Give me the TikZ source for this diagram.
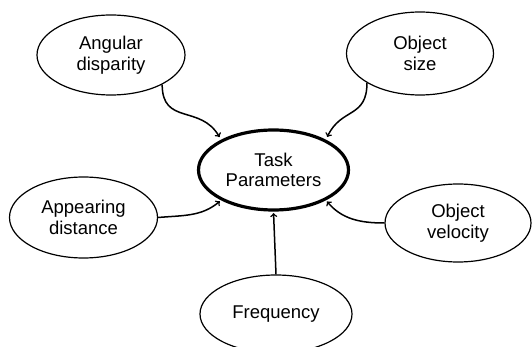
\documentclass[tikz,border=0pt]{standalone}
\usepackage{fontspec}
\setmainfont{Liberation Sans}
\usetikzlibrary{shapes.geometric}
\begin{document}
\begin{tikzpicture}[x=1pt, y=-1pt, line width=1.5pt, >=to,
    factor node/.style={ellipse, draw, line width=1.2pt, inner sep=0pt, align=center, font=\fontsize{18.5}{20.5}\selectfont},
    main node/.style={factor node, line width=3.2pt}]
                \useasboundingbox (0,0) rectangle (532,347);
                \node[factor node, minimum width=148pt, minimum height=80pt] at (111, 55) (ang) {Angular\\disparity};
                \node[factor node, minimum width=147pt, minimum height=83pt] at (420, 53.5) (size) {Object\\size};
                \node[main node, minimum width=150pt, minimum height=80pt] at (273.5, 170) (task) {Task\\Parameters};
                \node[factor node, minimum width=148pt, minimum height=81pt] at (83.5, 217.5) (app) {Appearing\\distance};
                \node[factor node, minimum width=146pt, minimum height=78pt] at (458, 223) (vel) {Object\\velocity};
                \node[factor node, minimum width=152pt, minimum height=78pt] at (276, 314) (freq) {Frequency};

            \path[->] (ang.-30) edge[out=-90, in=120, looseness=1.3, shorten >=3pt] (task.150);
            \path[->] (size.209) edge[out=-90, in=65, looseness=1.3, shorten >=3pt] (task.30);
            \path[->] (app.east) edge[out=5, in=-140, shorten >=1.5pt] (task.210);
            \path[->] (vel.west) edge[out=180, in=-50, shorten >=1.5pt] (task.-30);
            \path[->] (freq.north) edge[shorten >=1.5pt] (task.south);

            \end{tikzpicture}
\end{document}
